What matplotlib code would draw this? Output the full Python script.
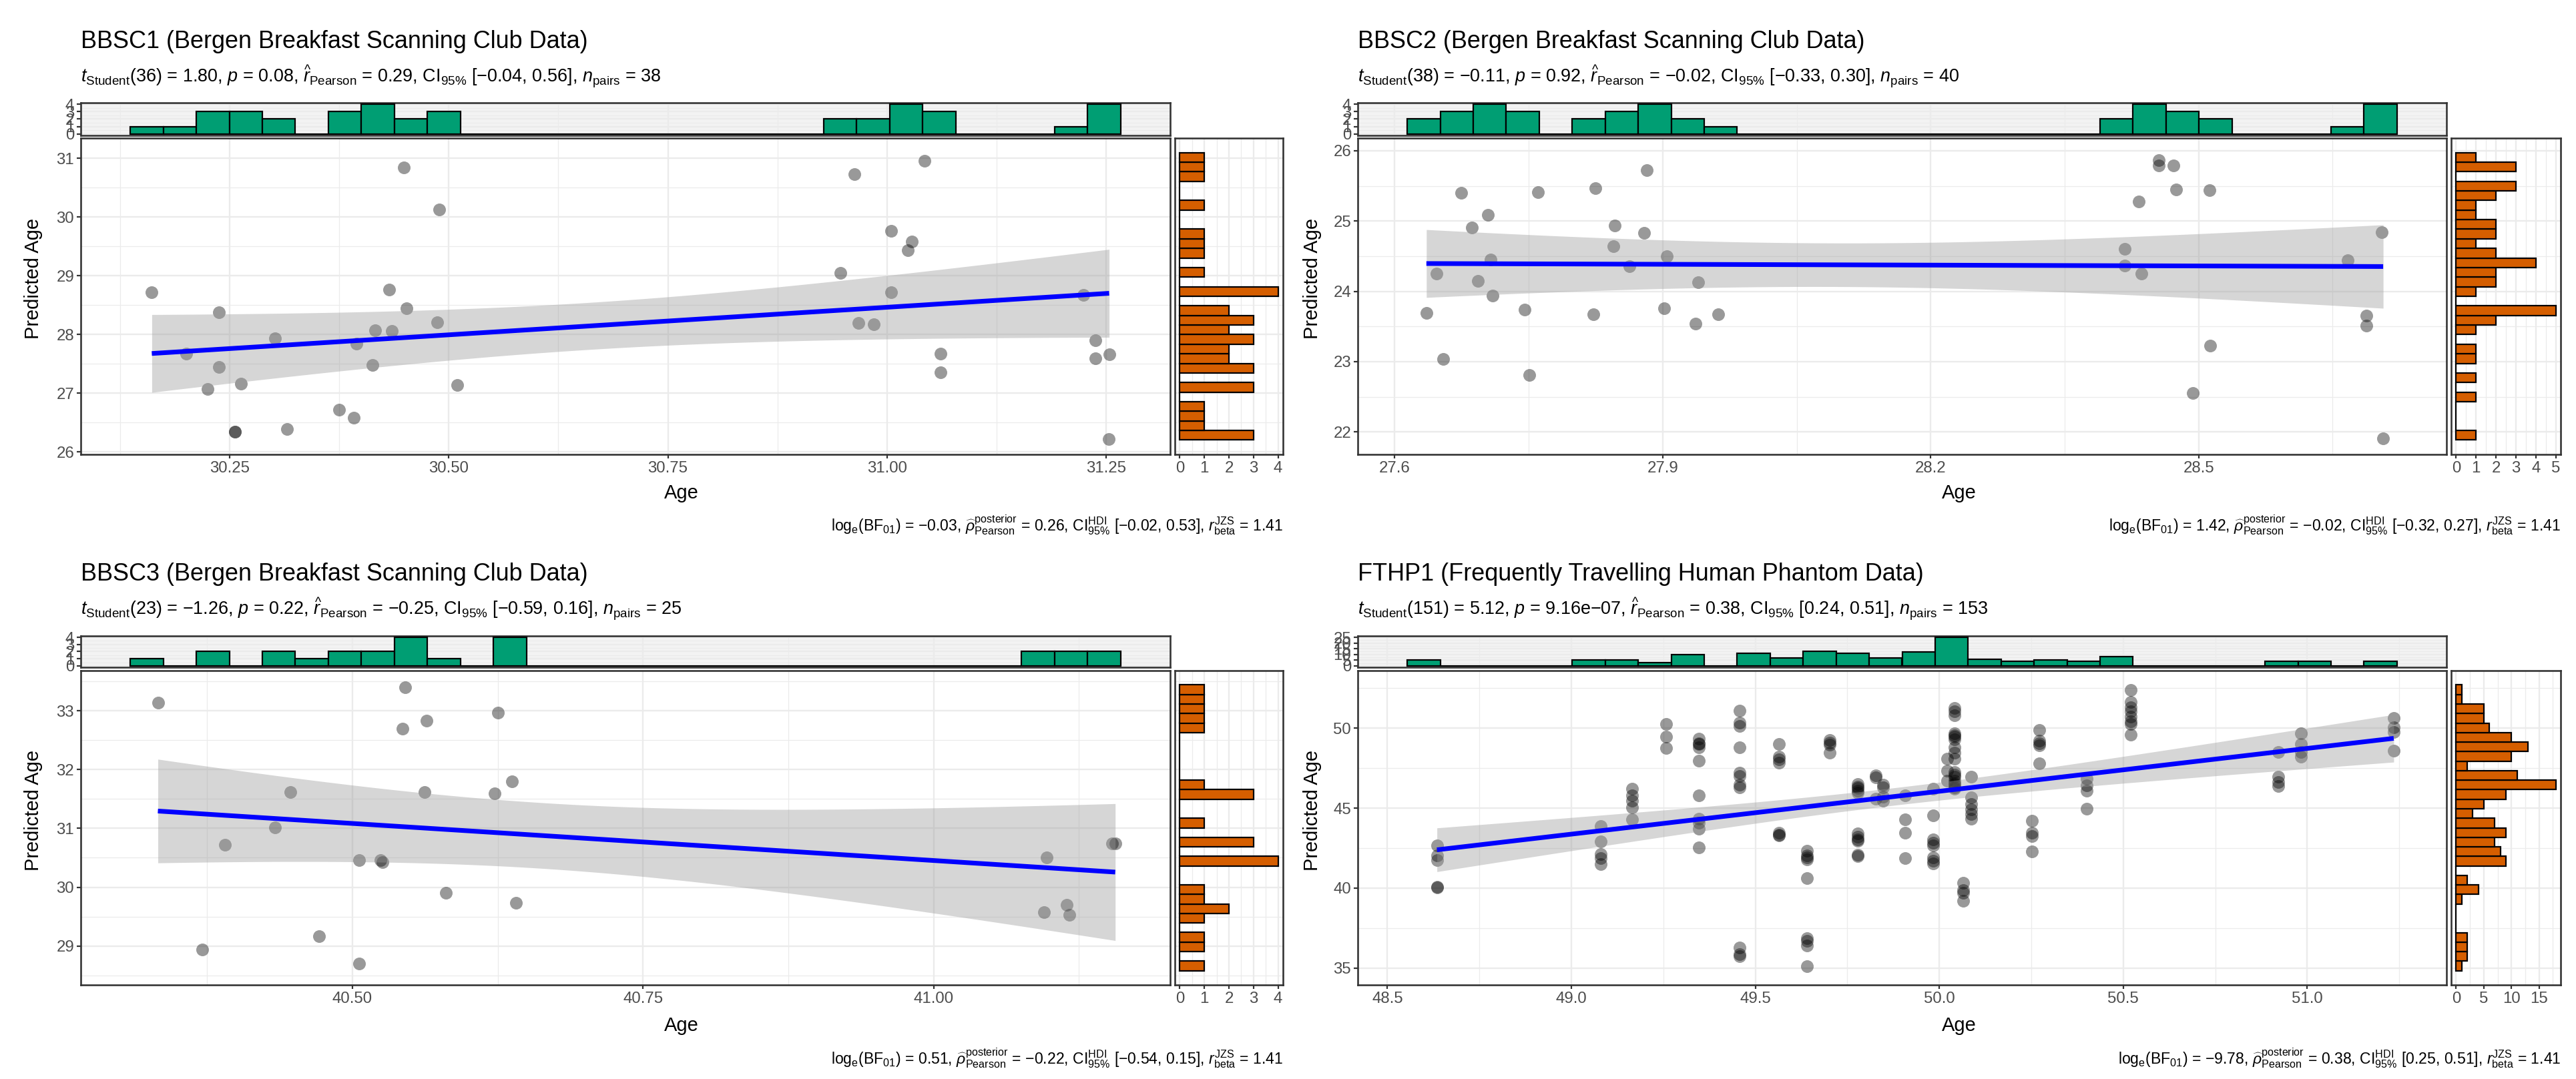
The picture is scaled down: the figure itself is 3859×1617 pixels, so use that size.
import numpy as np
import matplotlib
matplotlib.use("Agg")
import matplotlib.pyplot as plt
from matplotlib.ticker import MultipleLocator, FormatStrFormatter

plt.rcParams['font.family'] = ['Liberation Sans', 'DejaVu Sans']
plt.rcParams['mathtext.fontset'] = 'custom'
plt.rcParams['mathtext.rm'] = 'Liberation Sans'
plt.rcParams['mathtext.it'] = 'Liberation Sans:italic'
plt.rcParams['mathtext.bf'] = 'Liberation Sans:bold'

# ------------------------------------------------------------------ data
bbsc1_age = [30.16142, 30.20042, 30.22528, 30.23816, 30.23816, 30.25657, 30.25657, 30.26302,
             30.30168, 30.31548, 30.37532, 30.39189, 30.39465, 30.41305, 30.41582, 30.43238,
             30.43515, 30.44896, 30.45172, 30.48670, 30.48946, 30.50971, 30.94693, 30.96250,
             30.96750, 30.98467, 31.00450, 31.00450, 31.02333, 31.02794, 31.04300, 31.06123,
             31.06123, 31.22365, 31.23746, 31.23746, 31.25320, 31.25300]
bbsc1_pred = [28.72, 27.68, 27.07, 28.38, 27.45, 26.34, 26.34, 27.16,
              27.94, 26.39, 26.72, 26.58, 27.84, 27.48, 28.07, 28.76,
              28.06, 30.84, 28.45, 28.21, 30.13, 27.14, 29.05, 30.73,
              28.20, 28.17, 29.77, 28.72, 29.44, 29.58, 30.95451, 27.68,
              27.36, 28.68, 27.90, 27.59, 27.66, 26.22]

bbsc2_age = [27.63537, 27.64654, 27.65398, 27.67446, 27.68600, 27.69308, 27.70424, 27.70704,
             27.70983, 27.74520, 27.75078, 27.76000, 27.82245, 27.82431, 27.84479, 27.84665,
             27.86247, 27.87923, 27.88202, 27.90156, 27.90435, 27.93693, 27.93972, 27.96206,
             28.41720, 28.41720, 28.43302, 28.43582, 28.45536, 28.45536, 28.47212, 28.47491,
             28.49353, 28.51214, 28.51307, 28.66664, 28.68800, 28.68800, 28.70500, 28.70668]
bbsc2_pred = [23.69, 24.25, 23.04, 25.40, 24.91, 24.15, 25.09, 24.45,
              23.94, 23.74, 22.81, 25.41, 23.67, 25.47, 24.64, 24.94,
              24.36, 24.83, 25.72, 23.76, 24.50, 23.54, 24.13, 23.67,
              24.60, 24.37, 25.28, 24.25, 25.86409, 25.79, 25.79, 25.45,
              22.55, 25.44, 23.23, 24.44, 23.65, 23.51, 24.84, 21.91]

bbsc3_age = [40.33264, 40.37083, 40.39028, 40.43333, 40.44653, 40.47153, 40.50600, 40.50600,
             40.52431, 40.52569, 40.54306, 40.54514, 40.56181, 40.56350, 40.58056, 40.62250,
             40.62500, 40.63750, 40.64097, 41.09722, 41.09514, 41.11458, 41.11667, 41.15347,
             41.15614]
bbsc3_pred = [33.14, 28.94, 30.72, 31.02, 31.62, 29.17, 30.46, 28.70,
              30.46, 30.43, 32.69, 33.39603, 31.62, 32.83, 29.90, 31.59,
              32.97, 31.80, 29.73, 30.50, 29.57, 29.70, 29.53, 30.74,
              30.74]

# FTHP1: scans share the same age at each session
fthp_session_age = [48.6346, 49.0790, 49.1643, 49.2568, 49.3470, 49.4570, 49.5645, 49.6410,
                    49.7016, 49.7787, 49.8270, 49.8476, 49.9070, 49.9836, 50.0215, 50.0414,
                    50.0655, 50.0860, 50.2526, 50.2720, 50.4010, 50.5196, 50.9218, 50.9820,
                    51.2349]
fthp_session_pred = [
    [42.68, 42.05, 41.75, 40.08, 40.02],
    [43.86, 42.93, 42.13, 41.85, 41.51],
    [46.21, 45.80, 45.45, 45.04, 44.30],
    [50.24, 49.45, 48.75],
    [49.33, 49.06, 49.00, 48.78, 47.95, 45.80, 44.34, 44.07, 43.72, 42.54],
    [51.11, 50.35, 50.15, 48.78, 47.20, 47.00, 46.45, 46.30, 36.30, 35.85, 35.75],
    [48.99, 48.20, 48.05, 47.85, 43.45, 43.35, 43.30],
    [42.33, 42.05, 41.90, 41.80, 40.60, 36.85, 36.70, 36.40, 35.13],
    [49.25, 49.10, 48.95, 48.45],
    [46.50, 46.35, 46.25, 46.10, 45.95, 43.40, 43.20, 43.05, 42.95, 42.10, 42.00],
    [47.05, 46.90, 45.60],
    [46.45, 46.30, 45.70, 45.45],
    [45.80, 44.28, 43.44, 41.85],
    [46.21, 44.55, 43.03, 42.85, 42.68, 41.90, 41.70, 41.55],
    [48.08, 47.33, 46.70],
    [51.25, 51.05, 50.80, 49.68, 49.55, 49.47, 49.30, 48.80, 48.45, 48.10, 47.26, 47.10,
     46.95, 46.70, 46.55, 46.45, 46.30, 46.20],
    [40.32, 39.85, 39.70, 39.21],
    [46.98, 45.66, 45.25, 44.90, 44.62, 44.35],
    [44.21, 43.44, 43.24, 42.27],
    [49.89, 49.20, 49.05, 48.92, 47.81],
    [46.84, 46.43, 46.10, 44.97],
    [52.3995, 51.62, 51.28, 51.07, 50.70, 50.44, 50.24, 49.61],
    [48.50, 46.98, 46.63, 46.36],
    [49.68, 48.99, 48.50, 48.23],
    [50.65, 50.03, 49.75, 48.57],
]
fthp_age = np.concatenate([[a] * len(p) for a, p in zip(fthp_session_age, fthp_session_pred)])
fthp_pred = np.concatenate([np.asarray(p) for p in fthp_session_pred])

titles = ["BBSC1 (Bergen Breakfast Scanning Club Data)",
          "BBSC2 (Bergen Breakfast Scanning Club Data)",
          "BBSC3 (Bergen Breakfast Scanning Club Data)",
          "FTHP1 (Frequently Travelling Human Phantom Data)"]
subtitles = [
    r"$t_{\mathrm{Student}}$(36) = 1.80, $p$ = 0.08, $\widehat{r}_{\mathrm{Pearson}}$ = 0.29, CI$_{95\%}$ [−0.04, 0.56], $n_{\mathrm{pairs}}$ = 38",
    r"$t_{\mathrm{Student}}$(38) = −0.11, $p$ = 0.92, $\widehat{r}_{\mathrm{Pearson}}$ = −0.02, CI$_{95\%}$ [−0.33, 0.30], $n_{\mathrm{pairs}}$ = 40",
    r"$t_{\mathrm{Student}}$(23) = −1.26, $p$ = 0.22, $\widehat{r}_{\mathrm{Pearson}}$ = −0.25, CI$_{95\%}$ [−0.59, 0.16], $n_{\mathrm{pairs}}$ = 25",
    r"$t_{\mathrm{Student}}$(151) = 5.12, $p$ = 9.16e−07, $\widehat{r}_{\mathrm{Pearson}}$ = 0.38, CI$_{95\%}$ [0.24, 0.51], $n_{\mathrm{pairs}}$ = 153",
]
captions = [
    r"log$_{\mathrm{e}}$(BF$_{01}$) = −0.03, $\widehat{\rho}_{\mathrm{Pearson}}^{\mathrm{posterior}}$ = 0.26, CI$_{95\%}^{\mathrm{HDI}}$ [−0.02, 0.53], $r_{\mathrm{beta}}^{\mathrm{JZS}}$ = 1.41",
    r"log$_{\mathrm{e}}$(BF$_{01}$) = 1.42, $\widehat{\rho}_{\mathrm{Pearson}}^{\mathrm{posterior}}$ = −0.02, CI$_{95\%}^{\mathrm{HDI}}$ [−0.32, 0.27], $r_{\mathrm{beta}}^{\mathrm{JZS}}$ = 1.41",
    r"log$_{\mathrm{e}}$(BF$_{01}$) = 0.51, $\widehat{\rho}_{\mathrm{Pearson}}^{\mathrm{posterior}}$ = −0.22, CI$_{95\%}^{\mathrm{HDI}}$ [−0.54, 0.15], $r_{\mathrm{beta}}^{\mathrm{JZS}}$ = 1.41",
    r"log$_{\mathrm{e}}$(BF$_{01}$) = −9.78, $\widehat{\rho}_{\mathrm{Pearson}}^{\mathrm{posterior}}$ = 0.38, CI$_{95\%}^{\mathrm{HDI}}$ [0.25, 0.51], $r_{\mathrm{beta}}^{\mathrm{JZS}}$ = 1.41",
]
x_label = "Age"
y_label = "Predicted Age"

# ------------------------------------------------------------------ layout / style
W, H, DPI = 3859, 1617, 100
PT = 72.0 / DPI

COLS = [dict(mx=(121, 1753), sx=(1760, 1922), tx=121, ylx=50, xlx=1021, capx=1922),
        dict(mx=(2034, 3665), sx=(3672, 3836), tx=2034, ylx=1966, xlx=2935, capx=3836)]
ROWS = [dict(ty=(154, 203), my=(207, 681), tb=72, sb=123, xlb=747, cb=796, ylc=417),
        dict(ty=(953, 1000), my=(1005, 1476), tb=870, sb=921, xlb=1545, cb=1594, ylc=1214)]

panel_specs = [
    dict(x=bbsc1_age, y=bbsc1_pred, col=0, row=0, xmaj=0.25, xfmt='%.2f', ymaj=1.0, cmaj=1),
    dict(x=bbsc2_age, y=bbsc2_pred, col=1, row=0, xmaj=0.3, xfmt='%.1f', ymaj=1.0, cmaj=1),
    dict(x=bbsc3_age, y=bbsc3_pred, col=0, row=1, xmaj=0.25, xfmt='%.2f', ymaj=1.0, cmaj=1),
    dict(x=fthp_age, y=fthp_pred, col=1, row=1, xmaj=0.5, xfmt='%.1f', ymaj=5.0, cmaj=5),
]

GREEN, ORANGE = '#009E73', '#D55E00'
BORDER = '#333333'
GRID = '#EBEBEB'
TICKTXT = '#4D4D4D'

FS_TITLE = 36 * PT
FS_SUB = 27 * PT
FS_AXT = 29 * PT
FS_TICK = 24 * PT
FS_CAP = 23 * PT


def rect(x0, y0, x1, y1):
    return [x0 / W, 1 - y1 / H, (x1 - x0) / W, (y1 - y0) / H]


def gg_breaks(v, bins=30):
    v = np.asarray(v, float)
    lo, hi = v.min(), v.max()
    width = (hi - lo) / (bins - 1)
    boundary = width / 2.0
    shift = np.floor((lo - boundary) / width)
    origin = boundary + shift * width
    max_x = hi + (1 - 1e-8) * width
    nsteps = int(np.floor((max_x - origin) / width + 1e-10))
    return origin + width * np.arange(nsteps + 1)


def t975(df):
    z = 1.959963985
    g1 = (z**3 + z) / 4
    g2 = (5 * z**5 + 16 * z**3 + 3 * z) / 96
    g3 = (3 * z**7 + 19 * z**5 + 17 * z**3 - 15 * z) / 384
    g4 = (79 * z**9 + 776 * z**7 + 1482 * z**5 - 1920 * z**3 - 945 * z) / 92160
    return z + g1 / df + g2 / df**2 + g3 / df**3 + g4 / df**4


def style(ax, face='white'):
    ax.set_facecolor(face)
    for s in ax.spines.values():
        s.set_color(BORDER)
        s.set_linewidth(2.6 * PT)
    ax.set_axisbelow(True)
    ax.grid(True, which='major', color=GRID, linewidth=2.4 * PT)
    ax.grid(True, which='minor', color=GRID, linewidth=1.2 * PT)
    ax.tick_params(which='major', length=6 * PT, width=2.2 * PT, color=BORDER,
                   labelsize=FS_TICK, labelcolor=TICKTXT, pad=4 * PT)
    ax.tick_params(which='minor', length=0)


def expand(lo, hi, m=0.05):
    r = hi - lo
    return lo - m * r, hi + m * r


fig = plt.figure(figsize=(W / DPI, H / DPI), dpi=DPI)

for i, p in enumerate(panel_specs):
    c, r = COLS[p['col']], ROWS[p['row']]
    x = np.asarray(p['x'], float)
    y = np.asarray(p['y'], float)
    n = len(x)

    # linear fit with 95% confidence band
    b1, b0 = np.polyfit(x, y, 1)
    xs = np.linspace(x.min(), x.max(), 80)
    yh = b0 + b1 * xs
    res = y - (b0 + b1 * x)
    s = np.sqrt(np.sum(res**2) / (n - 2))
    sxx = np.sum((x - x.mean())**2)
    se = s * np.sqrt(1.0 / n + (xs - x.mean())**2 / sxx)
    tq = t975(n - 2)
    lo_b, hi_b = yh - tq * se, yh + tq * se

    bx = gg_breaks(x)
    by = gg_breaks(y)
    cx, _ = np.histogram(x, bx)
    cy, _ = np.histogram(y, by)

    xlim = expand(min(bx[0], x.min()), max(bx[-1], x.max()))
    ylim = expand(min(by[0], y.min(), lo_b.min()), max(by[-1], y.max(), hi_b.max()))

    # main panel
    ax = fig.add_axes(rect(c['mx'][0], r['my'][0], c['mx'][1], r['my'][1]))
    style(ax)
    ax.scatter(x, y, s=(19 * PT)**2, c='black', alpha=0.4, linewidths=0, zorder=2)
    ax.fill_between(xs, lo_b, hi_b, color=(0.6, 0.6, 0.6), alpha=0.4, linewidth=0, zorder=3)
    ax.plot(xs, yh, color='blue', lw=7 * PT, zorder=4, solid_capstyle='butt')
    ax.set_xlim(xlim)
    ax.set_ylim(ylim)
    ax.xaxis.set_major_locator(MultipleLocator(p['xmaj']))
    ax.xaxis.set_minor_locator(MultipleLocator(p['xmaj'] / 2))
    ax.xaxis.set_major_formatter(FormatStrFormatter(p['xfmt']))
    ax.yaxis.set_major_locator(MultipleLocator(p['ymaj']))
    ax.yaxis.set_minor_locator(MultipleLocator(p['ymaj'] / 2))
    ax.yaxis.set_major_formatter(FormatStrFormatter('%d'))

    # top marginal histogram
    axt = fig.add_axes(rect(c['mx'][0], r['ty'][0], c['mx'][1], r['ty'][1]))
    style(axt, face='#F3F3F3')
    axt.hist(x, bins=bx, color=GREEN, edgecolor='black', linewidth=2.2 * PT, zorder=3)
    axt.set_xlim(xlim)
    axt.set_ylim(-0.05 * cx.max(), 1.05 * cx.max())
    axt.xaxis.set_major_locator(MultipleLocator(p['xmaj']))
    axt.xaxis.set_minor_locator(MultipleLocator(p['xmaj'] / 2))
    axt.yaxis.set_major_locator(MultipleLocator(p['cmaj']))
    axt.yaxis.set_minor_locator(MultipleLocator(p['cmaj'] / 2))
    axt.yaxis.set_major_formatter(FormatStrFormatter('%d'))
    axt.tick_params(axis='x', which='both', bottom=False, labelbottom=False)

    # right marginal histogram
    axr = fig.add_axes(rect(c['sx'][0], r['my'][0], c['sx'][1], r['my'][1]))
    style(axr)
    axr.hist(y, bins=by, orientation='horizontal', color=ORANGE, edgecolor='black',
             linewidth=2.2 * PT, zorder=3)
    axr.set_ylim(ylim)
    axr.set_xlim(-0.05 * cy.max(), 1.05 * cy.max())
    axr.yaxis.set_major_locator(MultipleLocator(p['ymaj']))
    axr.yaxis.set_minor_locator(MultipleLocator(p['ymaj'] / 2))
    axr.xaxis.set_major_locator(MultipleLocator(p['cmaj']))
    axr.xaxis.set_minor_locator(MultipleLocator(p['cmaj'] / 2))
    axr.xaxis.set_major_formatter(FormatStrFormatter('%d'))
    axr.tick_params(axis='y', which='both', left=False, labelleft=False)

    # texts
    fig.text(c['tx'] / W, 1 - r['tb'] / H, titles[i], fontsize=FS_TITLE, ha='left', va='baseline')
    fig.text(c['tx'] / W, 1 - r['sb'] / H, subtitles[i], fontsize=FS_SUB, ha='left', va='baseline')
    fig.text(c['xlx'] / W, 1 - r['xlb'] / H, x_label, fontsize=FS_AXT, ha='center', va='baseline')
    fig.text(c['ylx'] / W, 1 - r['ylc'] / H, y_label, fontsize=FS_AXT, ha='center', va='center',
             rotation=90)
    fig.text(c['capx'] / W, 1 - r['cb'] / H, captions[i], fontsize=FS_CAP, ha='right', va='baseline')

fig.savefig("out.png", dpi=DPI, facecolor='white')
